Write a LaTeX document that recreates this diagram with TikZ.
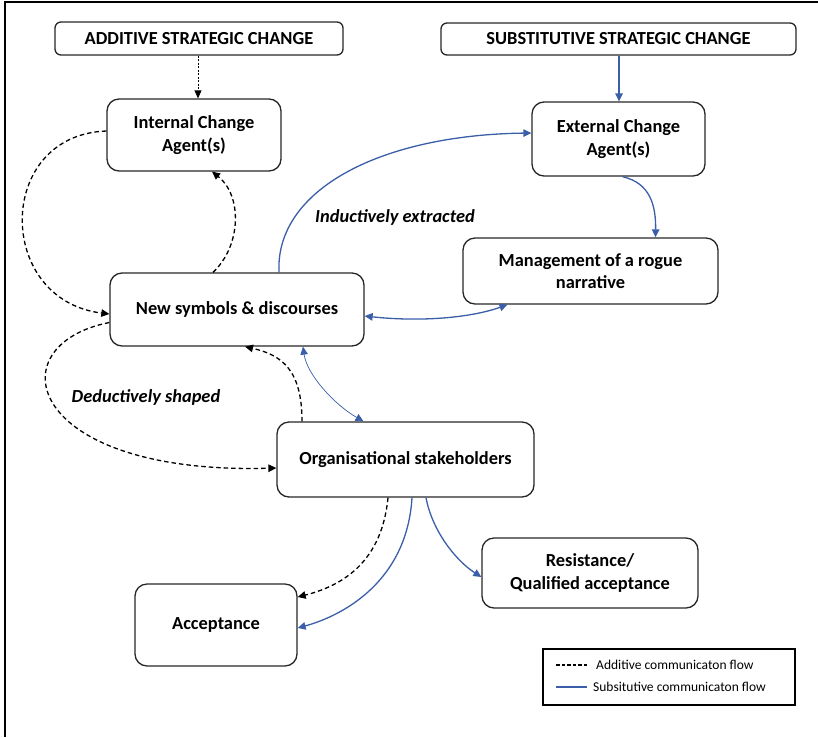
\documentclass[tikz,border=0pt]{standalone}
\usepackage{fontspec}
\setmainfont{Carlito}
\usetikzlibrary{arrows.meta}
\definecolor{flowblue}{RGB}{59,94,168}
\begin{document}
\begin{tikzpicture}[x=1pt,y=-1pt,
  box/.style={draw=black!85,line width=1.3pt,rounded corners=12pt,align=center,
    font=\fontsize{18.4}{22.5}\selectfont\bfseries,inner sep=0pt},
  headbox/.style={box,rounded corners=6pt},
  lbl/.style={font=\fontsize{18.4}{22}\selectfont\bfseries\itshape},
  tip/.style={-{Triangle[length=8pt,width=7.5pt]}},
  addflow/.style={tip,line width=1.3pt,dash pattern=on 4.5pt off 3pt},
  addthin/.style={-{Triangle[length=8pt,width=7pt]},line width=0.8pt,dash pattern=on 2pt off 1.5pt},
  subflow/.style={tip,line width=1.3pt,draw=flowblue,
    {Triangle[length=8pt,width=7.5pt]}-{Triangle[length=8pt,width=7.5pt]},-{Triangle[length=8pt,width=7.5pt],fill=flowblue}},
  blueline/.style={line width=1.3pt,draw=flowblue},
  bluetip/.style={-{Triangle[length=8pt,width=7.5pt,color=flowblue]}},
  bluetwo/.style={{Triangle[length=8pt,width=7.5pt,color=flowblue]}-{Triangle[length=8pt,width=7.5pt,color=flowblue]}},
  legtext/.style={anchor=west,font=\fontsize{13.5}{16}\selectfont,inner sep=0pt}
]
\useasboundingbox (0,0) rectangle (818,737);
% outer frame (top and left edges)
\draw[line width=2pt] (5,737) -- (5,2) -- (818,2);

% boxes
\node[headbox,minimum width=288,minimum height=33] (add) at (199,38.5) {ADDITIVE STRATEGIC CHANGE};
\node[headbox,minimum width=355,minimum height=32] (sub) at (618.5,39) {SUBSTITUTIVE STRATEGIC CHANGE};
\node[box,minimum width=174,minimum height=72] (internal) at (194,135) {Internal Change\\Agent(s)};
\node[box,minimum width=173,minimum height=74] (external) at (618.5,139) {External Change\\Agent(s)};
\node[box,minimum width=255,minimum height=66] (mgmt) at (590.5,271) {Management of a rogue\\narrative};
\node[box,minimum width=254,minimum height=73] (newsym) at (237,309.5) {New symbols \& discourses};
\node[box,minimum width=257,minimum height=75] (org) at (405.5,459.5) {Organisational stakeholders};
\node[box,minimum width=162,minimum height=82] (accept) at (216,625) {Acceptance};
\node[box,minimum width=216,minimum height=70] (resist) at (590,573) {Resistance/\\Qualified acceptance};

% labels
\node[lbl] (ind) at (395,217) {Inductively extracted};
\node[lbl] (ded) at (146,397) {Deductively shaped};

% additive flow (dashed)
\draw[addthin] (add.south -| 198,0) -- (internal.north -| 198,0);
\draw[addflow] ([yshift=4]internal.west) .. controls (-5,135) and (-5,300) .. ([yshift=-4.5]newsym.west);
\draw[addflow] ([xshift=-24]newsym.north) .. controls (242,245) and (242,195) .. ([xshift=18]internal.south);
\draw[addflow] ([yshift=-13]newsym.west) .. controls (-5,345) and (25,475) .. ([yshift=-8.5]org.west);
\draw[addflow] ([xshift=-103.5]org.north) .. controls (302,370) and (282,355) .. ([xshift=8]newsym.south);
\draw[addflow] ([xshift=-17.5]org.south) .. controls (382,560) and (345,585) .. ([yshift=28]accept.east);

% substitutive flow (blue)
\draw[blueline,bluetip] (sub.south -| 619,0) -- (external.north -| 619,0);
\draw[blueline,bluetip] ([xshift=42]newsym.north) .. controls (275,190) and (380,135) .. ([yshift=6]external.west);
\draw[blueline,bluetip] ([xshift=4]external.south) .. controls (650,183) and (656,205) .. ([xshift=65]mgmt.north);
\draw[blueline,bluetwo] ([yshift=-6.5]newsym.east) .. controls (420,322) and (470,318) .. ([xshift=-83]mgmt.south);
\draw[blueline,line width=0.7pt,bluetwo] ([xshift=66]newsym.south) .. controls (307,375) and (335,405) .. ([xshift=-42]org.north);
\draw[blueline,bluetip] ([xshift=6.5]org.south) .. controls (407,580) and (345,615) .. ([yshift=-3]accept.east);
\draw[blueline,bluetip] ([xshift=20.5]org.south) .. controls (432,530) and (455,560) .. ([yshift=-4]resist.west);

% legend
\node[draw,line width=1.8pt,minimum width=252,minimum height=56,inner sep=0pt] (legend) at (669,677) {};
\coordinate (la1) at (556,665);
\coordinate (la2) at (587,665);
\coordinate (lb1) at (556,687);
\coordinate (lb2) at (587,687);
\draw[line width=1.3pt,dash pattern=on 3.5pt off 2pt] (la1) -- (la2);
\draw[blueline] (lb1) -- (lb2);
\node[legtext] (lta) at (596,665) {Additive communicaton flow};
\node[legtext] (ltb) at (593,687) {Subsitutive communicaton flow};
\end{tikzpicture}
\end{document}
